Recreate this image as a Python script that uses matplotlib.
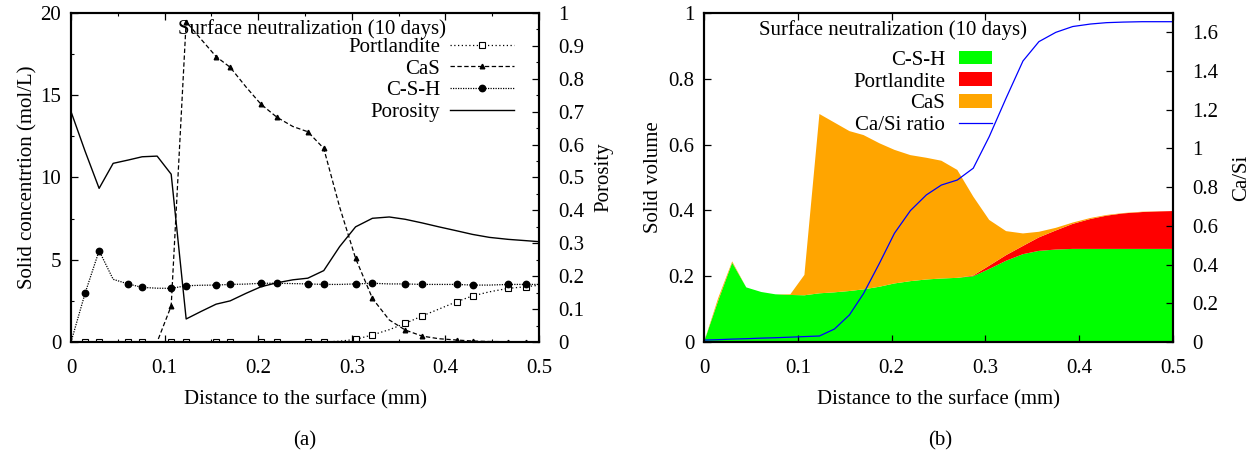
import matplotlib.pyplot as plt
from matplotlib.ticker import MultipleLocator, FuncFormatter

plt.rcParams['font.family'] = ['Liberation Serif', 'DejaVu Serif']
plt.rcParams['font.size'] = 15

# distance to the surface (mm)
dist = [0.0, 0.015, 0.030, 0.045, 0.061, 0.076, 0.092, 0.107, 0.123, 0.139,
        0.155, 0.170, 0.187, 0.203, 0.220, 0.237, 0.253, 0.270, 0.287, 0.304,
        0.322, 0.340, 0.357, 0.375, 0.393, 0.412, 0.429, 0.447, 0.467, 0.486, 0.5]

# (a) solid concentrations (mol/L) and porosity
portlandite = [0, 0, 0, 0, 0, 0, 0, 0, 0, 0, 0, 0, 0, 0, 0, 0, 0, 0, 0.05, 0.16,
               0.43, 0.75, 1.13, 1.58, 2.0, 2.45, 2.8, 3.05, 3.26, 3.36, 3.45]
cas = [0, 0, 0, 0, 0, 0, 0, 2.19, 19.47, 18.4, 17.35, 16.7, 15.5, 14.45, 13.66, 13.1,
       12.78, 11.77, 8.2, 5.09, 2.65, 1.34, 0.73, 0.36, 0.2, 0.12, 0.06, 0.03, 0.02, 0.01, 0.0]
csh = [0, 2.96, 5.55, 3.81, 3.53, 3.32, 3.27, 3.26, 3.42, 3.45, 3.46, 3.5, 3.52, 3.57,
       3.57, 3.55, 3.53, 3.5, 3.5, 3.53, 3.57, 3.53, 3.53, 3.5, 3.5, 3.5, 3.46, 3.46,
       3.5, 3.5, 3.5]
porosity = [0.70, 0.58, 0.467, 0.543, 0.553, 0.563, 0.565, 0.51, 0.07, 0.093, 0.115,
            0.125, 0.148, 0.168, 0.18, 0.189, 0.194, 0.217, 0.29, 0.35, 0.376, 0.38,
            0.373, 0.362, 0.35, 0.338, 0.327, 0.318, 0.312, 0.308, 0.305]
marked = [1, 2, 4, 5, 7, 8, 10, 11, 13, 14, 16, 17, 19, 20, 22, 23, 25, 26, 28, 29]

# (b) solid volume fractions and Ca/Si ratio
vol_csh = [0, 0.125, 0.241, 0.166, 0.152, 0.145, 0.143, 0.142, 0.148, 0.151, 0.155,
           0.16, 0.168, 0.178, 0.185, 0.19, 0.193, 0.195, 0.2, 0.222, 0.247, 0.267,
           0.277, 0.281, 0.283, 0.283, 0.283, 0.283, 0.283, 0.283, 0.283]
vol_port = [0, 0, 0, 0, 0, 0, 0, 0, 0, 0, 0, 0, 0, 0, 0, 0, 0, 0, 0.002, 0.01, 0.017,
            0.025, 0.041, 0.058, 0.076, 0.091, 0.101, 0.108, 0.112, 0.114, 0.115]
vol_cas = [0, 0.008, 0.004, 0, 0, 0, 0.002, 0.062, 0.545, 0.516, 0.486, 0.469, 0.436,
           0.406, 0.383, 0.37, 0.358, 0.328, 0.24, 0.139, 0.073, 0.038, 0.017, 0.008,
           0.004, 0.003, 0.002, 0.001, 0.001, 0.0005, 0]
ca_si = [0.01, 0.012, 0.015, 0.017, 0.02, 0.022, 0.025, 0.028, 0.031, 0.067, 0.14,
         0.25, 0.407, 0.562, 0.679, 0.76, 0.811, 0.837, 0.898, 1.061, 1.26, 1.452,
         1.552, 1.6, 1.63, 1.643, 1.65, 1.653, 1.655, 1.655, 1.655]

title = "Surface neutralization (10 days)"
fmt = FuncFormatter(lambda v, p: '%g' % round(v, 3))

fig = plt.figure(figsize=(12.55, 4.59), dpi=100)
ax1 = fig.add_axes([0.0566, 0.2549, 0.3729, 0.7168])
ax2 = ax1.twinx()
ax3 = fig.add_axes([0.561, 0.2549, 0.3737, 0.7168])
ax4 = ax3.twinx()

# ---- (a)
lp, = ax1.plot(dist, portlandite, color='black', lw=0.9, ls=(0, (1, 2)), marker='s',
               ms=4, mfc='white', mew=0.8, markevery=marked, label='Portlandite')
lc, = ax1.plot(dist, cas, color='black', lw=0.9, ls=(0, (3.5, 2)), marker='^',
               ms=3.3, markevery=marked[4:], label='CaS')
lh, = ax1.plot(dist, csh, color='black', lw=0.9, ls=(0, (1, 1)), marker='o',
               ms=4.6, markevery=marked, label='C-S-H')
lo, = ax2.plot(dist, porosity, color='black', lw=1.0, label='Porosity')

ax1.set_xlim(0, 0.5)
ax1.set_ylim(0, 20)
ax2.set_ylim(0, 1)
ax1.xaxis.set_major_locator(MultipleLocator(0.1))
ax1.xaxis.set_minor_locator(MultipleLocator(0.05))
ax1.yaxis.set_major_locator(MultipleLocator(5))
ax1.yaxis.set_minor_locator(MultipleLocator(2.5))
ax2.yaxis.set_major_locator(MultipleLocator(0.1))
ax2.yaxis.set_minor_locator(MultipleLocator(0.05))
ax1.xaxis.set_major_formatter(fmt)
ax2.yaxis.set_major_formatter(fmt)
ax1.set_xlabel("Distance to the surface (mm)", labelpad=9)
ax1.set_ylabel("Solid concentrtion (mol/L)", labelpad=2)
ax2.set_ylabel("Porosity", labelpad=7)
ax1.text(0.515, 0.951, title, transform=ax1.transAxes, ha='center', va='center')
ax2.legend([lp, lc, lh, lo], ['Portlandite', 'CaS', 'C-S-H', 'Porosity'],
           loc='upper right', bbox_to_anchor=(0.947, 0.926), frameon=False,
           markerfirst=False, borderpad=0, borderaxespad=0, labelspacing=0.1,
           handlelength=3.1, handletextpad=0.45)

# ---- (b)
ax3.stackplot(dist, vol_csh, vol_port, vol_cas, colors=['#00ff00', '#ff0000', '#ffa500'],
              labels=['C-S-H', 'Portlandite', 'CaS'], lw=0)
lr, = ax4.plot(dist, ca_si, color='#0000ff', lw=0.9, label='Ca/Si ratio')

ax3.set_xlim(0, 0.5)
ax3.set_ylim(0, 1)
ax4.set_ylim(0, 1.7)
ax3.xaxis.set_major_locator(MultipleLocator(0.1))
ax3.yaxis.set_major_locator(MultipleLocator(0.2))
ax4.yaxis.set_major_locator(MultipleLocator(0.2))
ax3.xaxis.set_major_formatter(fmt)
ax3.yaxis.set_major_formatter(fmt)
ax4.yaxis.set_major_formatter(fmt)
ax3.set_xlabel("Distance to the surface (mm)", labelpad=9)
ax3.set_ylabel("Solid volume", labelpad=4)
ax4.set_ylabel("Ca/Si", labelpad=10)
ax3.text(0.403, 0.948, title, transform=ax3.transAxes, ha='center', va='center')
h3, l3 = ax3.get_legend_handles_labels()
ax4.legend(h3 + [lr], l3 + ['Ca/Si ratio'], loc='upper right',
           bbox_to_anchor=(0.614, 0.885), frameon=False, markerfirst=False,
           borderpad=0, borderaxespad=0, labelspacing=0.12, handlelength=1.6,
           handleheight=0.63, handletextpad=0.65)

for ax in (ax1, ax2, ax3, ax4):
    for s in ax.spines.values():
        s.set_linewidth(1.5)
    ax.tick_params(which='major', direction='in', length=5, width=0.9)
    ax.tick_params(which='minor', direction='in', length=2.5, width=0.8)
for ax in (ax1, ax3):
    ax.tick_params(axis='x', which='both', top=True, pad=12)
    ax.tick_params(axis='y', which='both', right=False, pad=7)
for ax in (ax2, ax4):
    ax.tick_params(axis='y', which='both', pad=14)

fig.text(0.243, 0.039, "(a)", ha='center', va='center')
fig.text(0.749, 0.039, "(b)", ha='center', va='center')

fig.savefig('out.png', dpi=100)
